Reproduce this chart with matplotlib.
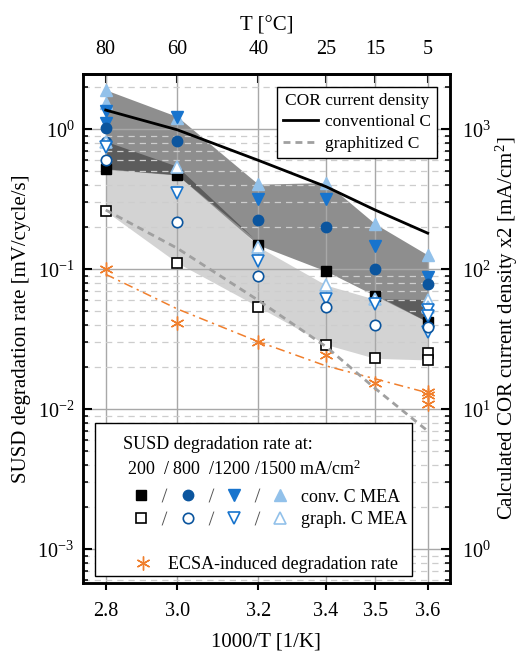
import numpy as np
import matplotlib.pyplot as plt
from matplotlib.lines import Line2D
from matplotlib.patches import Rectangle
from matplotlib.legend_handler import HandlerTuple
from matplotlib.ticker import NullLocator

plt.rcParams['font.family'] = ['Liberation Serif', 'DejaVu Serif']
plt.rcParams['mathtext.fontset'] = 'custom'
plt.rcParams['mathtext.rm'] = 'Liberation Serif'
plt.rcParams['mathtext.it'] = 'Liberation Serif:italic'

#==============================================================================
# data
temps   = [80, 60, 40, 25, 15, 5]
xlabels = ['2.8', '3.0', '3.2', '3.4', '3.5', '3.6']

# conventional carbon MEA, SUSD degradation rate [mV/cycle/s]
conv_200_T  = [80, 60, 40, 25, 15, 5]
conv_200    = [0.518, 0.47, 0.149, 0.097, 0.0648, 0.042]
conv_800_T  = [80, 80, 60, 40, 25, 15, 5]
conv_800    = [1.02, 0.815, 0.83, 0.225, 0.20, 0.10, 0.078]
conv_1200_T = [80, 80, 60, 40, 25, 15, 5]
conv_1200   = [1.36, 1.10, 1.23, 0.316, 0.316, 0.147, 0.0885]
conv_1500_T = [80, 80, 60, 40, 25, 15, 5]
conv_1500   = [1.91, 1.53, 1.20, 0.405, 0.416, 0.211, 0.1265]

# graphitized carbon MEA
graph_200_T  = [80, 60, 40, 25, 15, 5, 5]
graph_200    = [0.26, 0.111, 0.054, 0.029, 0.0231, 0.0254, 0.0225]
graph_800_T  = [80, 60, 40, 25, 15, 5]
graph_800    = [0.60, 0.219, 0.09, 0.0535, 0.040, 0.0385]
graph_1200_T = [80, 60, 40, 25, 15, 5, 5, 5]
graph_1200   = [0.743, 0.352, 0.115, 0.061, 0.0562, 0.0513, 0.046, 0.0359]
graph_1500_T = [80, 60, 40, 25, 15, 5, 5]
graph_1500   = [0.815, 0.54, 0.145, 0.077, 0.061, 0.0604, 0.054]

# ECSA-induced degradation rate
ecsa_T   = [80, 60, 40, 25, 15, 5, 5, 5]
ecsa     = [0.101, 0.0416, 0.0304, 0.0244, 0.0155, 0.01336, 0.01265, 0.0109]
ecsa_fit = [0.092, 0.052, 0.0304, 0.0204, 0.0165, 0.0131]

# calculated COR current density x2 [mA/cm2]
cor_conv  = [1370, 990, 600, 389, 265, 181]
cor_graph = [265, 141, 60, 28, 14.1, 7.0]

#==============================================================================

def inv_t(t):
    return 1000.0 / (np.asarray(t, dtype=float) + 273.15)

xpos = inv_t(temps)

def band(series):
    # upper / lower envelope of all series at each temperature
    lo, hi = [], []
    for t in temps:
        v = [val for T, vals in series for tt, val in zip(T, vals) if tt == t]
        lo.append(min(v))
        hi.append(max(v))
    return np.array(lo), np.array(hi)

conv_lo, conv_hi = band([(conv_200_T, conv_200), (conv_800_T, conv_800),
                         (conv_1200_T, conv_1200), (conv_1500_T, conv_1500)])
graph_lo, graph_hi = band([(graph_200_T, graph_200), (graph_800_T, graph_800),
                           (graph_1200_T, graph_1200), (graph_1500_T, graph_1500)])

c_black = 'black'
c_dblue = '#0b559e'
c_blue  = '#1874cd'
c_lblue = '#92c1ea'
c_orng  = '#f07f2d'
ast     = (6, 2, 0)

#==============================================================================

fig = plt.figure(figsize=(5.19, 6.52), dpi=100)
ax = fig.add_axes([0.1593, 0.1058, 0.7077, 0.7807])
ax.set_yscale('log')
ax.set_xlim(2.777, 3.648)
ax.set_ylim(5.74e-4, 2.48)

ax2 = ax.twinx()
ax2.set_yscale('log')
ax2.set_ylim(0.574, 2480)

# shaded ranges
ax.fill_between(xpos, graph_lo, graph_hi, color='#d3d3d3', lw=0, zorder=0.2)
ax.fill_between(xpos, conv_lo, conv_hi, color='#8e8e8e', lw=0, zorder=0.3)
ov_lo = np.maximum(conv_lo, graph_lo)
ov_hi = np.minimum(conv_hi, graph_hi)
ax.fill_between(xpos, ov_lo, ov_hi, where=ov_hi > ov_lo, interpolate=True,
                color='#5c5c5c', lw=0, zorder=0.4)

# grid
ax.set_axisbelow(True)
ax.set_xticks(xpos)
ax.set_xticklabels(xlabels)
ax.xaxis.set_minor_locator(NullLocator())
ax.grid(which='major', axis='both', color='#a8a8a8', lw=1.0, ls='-')
ax.grid(which='minor', axis='y', color='#cdcdcd', lw=0.9, ls=(0, (5, 4)))

# ECSA
ax.plot(xpos, ecsa_fit, color=c_orng, lw=1.1, ls=(0, (6, 3, 1.5, 3)), zorder=2)
ax.plot(inv_t(ecsa_T), ecsa, ls='none', marker=ast, ms=10, color=c_orng, mew=1.0, zorder=3)

# conventional C markers
ax.plot(inv_t(conv_1500_T), conv_1500, ls='none', marker='^', ms=9, color=c_lblue, zorder=3)
ax.plot(inv_t(conv_1200_T), conv_1200, ls='none', marker='v', ms=9, color=c_blue, zorder=3)
ax.plot(inv_t(conv_800_T), conv_800, ls='none', marker='o', ms=7.5, color=c_dblue, zorder=3)
ax.plot(inv_t(conv_200_T), conv_200, ls='none', marker='s', ms=6.5, color=c_black, zorder=3)

# graphitized C markers
kw = dict(ls='none', mfc='white', mew=1.2, zorder=3)
ax.plot(inv_t(graph_1500_T), graph_1500, marker='^', ms=9, mec=c_lblue, **kw)
ax.plot(inv_t(graph_1200_T), graph_1200, marker='v', ms=9, mec=c_blue, **kw)
ax.plot(inv_t(graph_800_T), graph_800, marker='o', ms=7.5, mec=c_dblue, **kw)
ax.plot(inv_t(graph_200_T), graph_200, marker='s', ms=6.5, mec=c_black, **kw)

# COR current density on right axis
l_conv, = ax2.plot(xpos, cor_conv, color='black', lw=2.0, label='conventional C')
l_graph, = ax2.plot(xpos, cor_graph, color='#a0a0a0', lw=2.0, ls=(0, (2.5, 1.8)),
                    label='graphitized C')

#==============================================================================
# axes cosmetics
fs  = 14.5   # tick labels
lfs_ax = 15  # axis labels
for a in (ax, ax2):
    for s in a.spines.values():
        s.set_linewidth(1.8)
ax.tick_params(axis='y', which='major', direction='in', length=6.5, width=1.5,
               labelsize=fs, pad=6)
ax.tick_params(axis='y', which='minor', direction='in', length=3.5, width=1.1)
ax.tick_params(axis='x', which='major', direction='out', length=5, width=1.5,
               labelsize=fs, pad=9)
ax2.tick_params(axis='y', which='major', direction='in', length=6.5, width=1.5,
                labelsize=fs, pad=9)
ax2.tick_params(axis='y', which='minor', direction='in', length=3.5, width=1.1)

sec = ax.secondary_xaxis('top')
sec.set_xticks(xpos)
sec.set_xticklabels([str(t) for t in temps])
sec.xaxis.set_minor_locator(NullLocator())
sec.tick_params(direction='in', length=6.5, width=1.5, labelsize=fs, pad=11)
sec.spines['top'].set_linewidth(1.8)
sec.set_xlabel('T [°C]', fontsize=lfs_ax, labelpad=7)

ax.set_xlabel('1000/T [1/K]', fontsize=lfs_ax, labelpad=8)
ax.set_ylabel('SUSD degradation rate [mV/cycle/s]', fontsize=lfs_ax, labelpad=5)
ax2.set_ylabel('Calculated COR current density x2 [mA/cm$^2$]', fontsize=lfs_ax,
               labelpad=2)

#==============================================================================
# legend: COR current density
leg_cor = ax2.legend(handles=[l_conv, l_graph], title='COR current density',
                     loc='upper right', bbox_to_anchor=(0.9646, 0.9745),
                     borderaxespad=0, fancybox=False, edgecolor='black',
                     framealpha=1, fontsize=12.5, title_fontsize=12.5,
                     handlelength=2.0, handletextpad=0.4, labelspacing=0.3,
                     borderpad=0.35)
leg_cor.get_frame().set_linewidth(1.0)

# legend: SUSD degradation rate
lfs = 13
ax2.add_patch(Rectangle((0.0335, 0.0138), 0.8631, 0.3006, transform=ax2.transAxes,
                        fc='white', ec='black', lw=1.0, zorder=4))
ax2.text(0.1097, 0.272, 'SUSD degradation rate at:', transform=ax2.transAxes,
         fontsize=lfs, va='center', ha='left', zorder=6)
ax2.text(0.1197, 0.223, '200  / 800  /1200 /1500 mA/cm$^2$', transform=ax2.transAxes,
         fontsize=lfs, va='center', ha='left', zorder=6)

def mk(marker, ms, **k):
    return Line2D([], [], ls='none', marker=marker, ms=ms, **k)

slash = mk('$/$', 10, color='#555555', mew=0)
h_conv = (mk('s', 6.5, color=c_black), slash, mk('o', 7.5, color=c_dblue), slash,
          mk('v', 9, color=c_blue), slash, mk('^', 9, color=c_lblue))
h_graph = (mk('s', 6.5, mfc='white', mec=c_black, mew=1.2), slash,
           mk('o', 7.5, mfc='white', mec=c_dblue, mew=1.2), slash,
           mk('v', 9, mfc='white', mec=c_blue, mew=1.2), slash,
           mk('^', 9, mfc='white', mec=c_lblue, mew=1.2))

leg_mea = ax2.legend(handles=[h_conv, h_graph], labels=['conv. C MEA', 'graph. C MEA'],
                     handler_map={tuple: HandlerTuple(ndivide=None, pad=0)},
                     loc='upper left', bbox_to_anchor=(0.1288, 0.1856),
                     borderaxespad=0, borderpad=0, frameon=False, fontsize=lfs,
                     handlelength=8.92, handletextpad=0.55, labelspacing=0.32,
                     numpoints=1)
leg_mea.set_zorder(6)

h_ecsa = mk(ast, 10, color=c_orng, mew=1.0)
leg_ecsa = ax2.legend(handles=[h_ecsa], labels=['ECSA-induced degradation rate'],
                      loc='upper left', bbox_to_anchor=(0.1369, 0.0531),
                      borderaxespad=0, borderpad=0, frameon=False, fontsize=lfs,
                      handlelength=1.07, handletextpad=0.88, numpoints=1)
leg_ecsa.set_zorder(6)
ax2.add_artist(leg_cor)
ax2.add_artist(leg_mea)

fig.savefig('out.png', dpi=100)
